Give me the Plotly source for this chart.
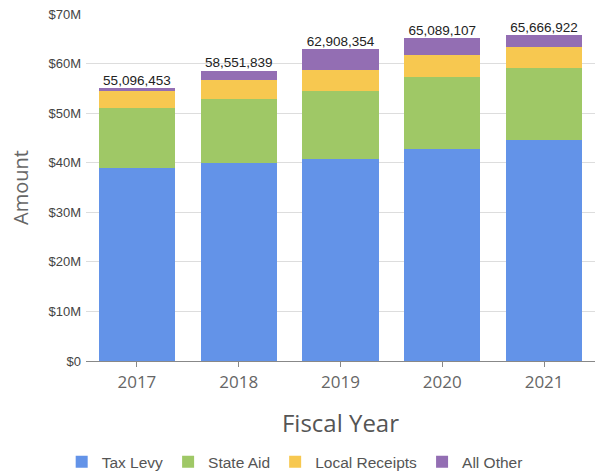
import plotly.graph_objects as go

years = ["2017", "2018", "2019", "2020", "2021"]
tax_levy = [39.0e6, 40.0e6, 40.8e6, 42.7e6, 44.6e6]
state_aid = [12.1e6, 12.9e6, 13.7e6, 14.5e6, 14.47e6]
local_receipts = [3.4e6, 3.7e6, 4.3e6, 4.55e6, 4.23e6]
totals = [55096453, 58551839, 62908354, 65089107, 65666922]
# all other = whatever remains of the reported total
all_other = [t - a - b - c for t, a, b, c in zip(totals, tax_levy, state_aid, local_receipts)]

series = [
    ("Tax Levy", tax_levy, "#6393E8"),
    ("State Aid", state_aid, "#9FC866"),
    ("Local Receipts", local_receipts, "#F7C850"),
    ("All Other", all_other, "#936EB3"),
]

fig = go.Figure()
for name, vals, color in series:
    fig.add_trace(go.Bar(
        x=years, y=vals, name=name,
        marker=dict(color=color, line=dict(width=0)),
        hovertemplate="%{y:,.0f}<extra>" + name + "</extra>",
    ))

# total labels on top of each stack
fig.add_trace(go.Scatter(
    x=years, y=totals, mode="text",
    text=[f"{t:,}" for t in totals],
    textposition="top center",
    textfont=dict(family="Liberation Sans, Arial", size=13.5, color="#222"),
    showlegend=False, hoverinfo="skip",
))

fig.update_layout(
    width=602, height=475,
    barmode="stack", bargap=0.25,
    margin=dict(l=86, r=7, t=14, b=114),
    plot_bgcolor="white", paper_bgcolor="white",
    font=dict(family="Open Sans, Liberation Sans", color="#555"),
    legend=dict(
        orientation="h", traceorder="normal",
        x=0.41, xanchor="center",
        yref="container", y=0.027, yanchor="middle",
        font=dict(family="Liberation Sans, Arial", size=15.5, color="#555"),
    ),
)
fig.update_xaxes(
    title=dict(text="Fiscal Year", font=dict(size=24, color="#555"), standoff=22),
    tickfont=dict(size=17, color="#666"), ticklabelstandoff=1,
    showline=True, linecolor="#888", linewidth=1,
    ticks="outside", ticklen=5, tickcolor="#888",
    automargin=False,
)
fig.update_yaxes(
    title=dict(text="Amount", font=dict(size=20, color="#666"), standoff=14),
    range=[0, 70e6], dtick=10e6, tickformat="$~s",
    tickfont=dict(family="Liberation Sans, Arial", size=13, color="#444"),
    ticklabelstandoff=4,
    gridcolor="#ddd", zeroline=False,
    automargin=False,
)

# drop the browser's default body margin so the figure fills the window
fig.write_html(
    "out.html",
    config={"displayModeBar": False},
    post_script="document.body.style.margin='0';",
)
